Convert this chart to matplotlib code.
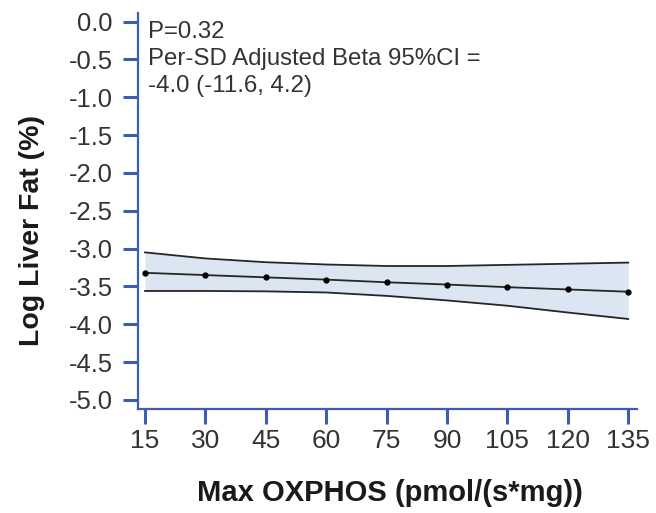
import numpy as np
import matplotlib.pyplot as plt

plt.rcParams['font.family'] = ['Liberation Sans', 'DejaVu Sans']

# ── Datos ────────────────────────────────────────────────────────
oxphos = [15, 30, 45, 60, 75, 90, 105, 120, 135]
log_grasa = [-3.32, -3.35, -3.38, -3.41, -3.445, -3.475, -3.51, -3.54, -3.57]
ic_sup = [-3.05, -3.13, -3.18, -3.21, -3.23, -3.23, -3.215, -3.20, -3.185]
ic_inf = [-3.56, -3.56, -3.565, -3.58, -3.625, -3.685, -3.755, -3.845, -3.93]

y_ticks = np.arange(0.0, -5.01, -0.5)
texto = "P=0.32\nPer-SD Adjusted Beta 95%CI =\n-4.0 (-11.6, 4.2)"

color_eje = '#3b5db5'
color_txt = '#333333'

W, H = 656, 513
fig = plt.figure(figsize=(W / 100, H / 100), dpi=100)
ax = fig.add_axes([138.3 / W, 1 - 409 / H, (636.7 - 138.3) / W, (409 - 13.3) / H])

ax.fill_between(oxphos, ic_inf, ic_sup, color='#dce6f2', linewidth=0)
ax.plot(oxphos, ic_sup, color='#262626', linewidth=1.3)
ax.plot(oxphos, ic_inf, color='#262626', linewidth=1.3)
ax.plot(oxphos, log_grasa, color='#262626', linewidth=1.3,
        marker='o', markersize=3.5, markerfacecolor='black', markeredgecolor='black')

ax.set_xlim(13.34, 137.1)
ax.set_ylim(-5.12, 0.11)
ax.set_xticks(oxphos)
ax.set_yticks(y_ticks)
ax.set_yticklabels([f"{v:.1f}" for v in y_ticks])

for lado in ['top', 'right']:
    ax.spines[lado].set_visible(False)
for lado in ['left', 'bottom']:
    ax.spines[lado].set_color(color_eje)
    ax.spines[lado].set_linewidth(1.6)

ax.tick_params(axis='both', colors=color_eje, labelcolor=color_txt,
               length=10.5, width=2.2)
ax.tick_params(axis='x', pad=4, labelsize=19)
ax.tick_params(axis='y', pad=8, labelsize=18.4)

# Etiquetas de ejes colocadas en coordenadas de figura
fig.text(390 / W, 1 - 493 / H, 'Max OXPHOS (pmol/(s*mg))', fontsize=21,
         fontweight='bold', color='#1a1a1a', ha='center', va='center')
fig.text(32 / W, 1 - 230 / H, 'Log Liver Fat (%)', fontsize=20.5,
         fontweight='bold', color='#1a1a1a', ha='center', va='center', rotation=90)

fig.text(148 / W, 1 - 20.5 / H, texto, ha='left', va='top',
         fontsize=17.3, color=color_txt, linespacing=1.32)

plt.savefig('out.png', dpi=100)
